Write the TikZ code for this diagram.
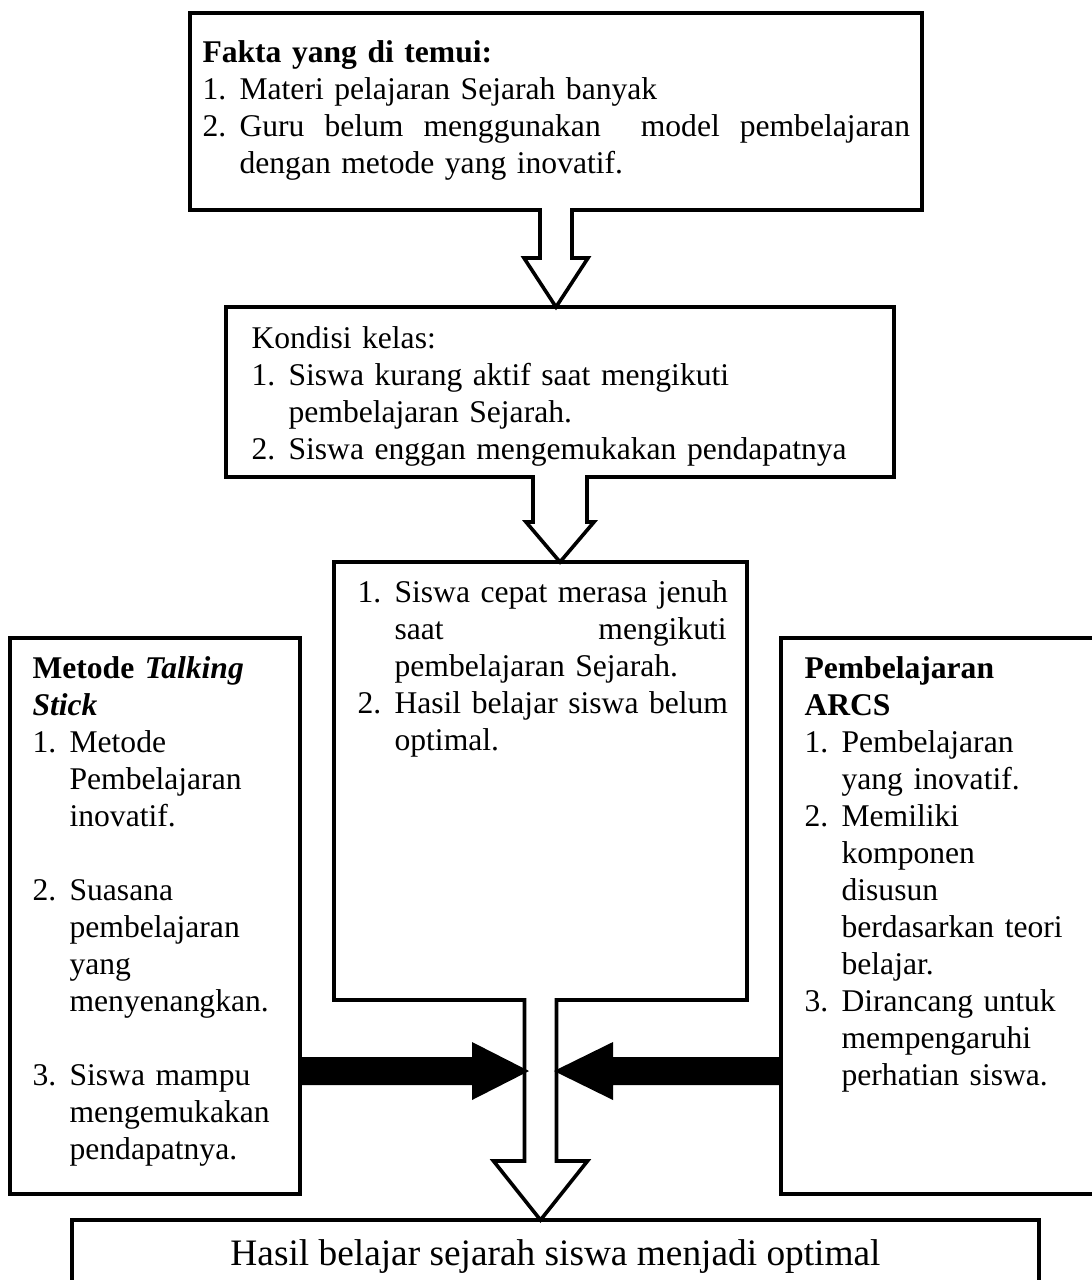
\documentclass[tikz,border=0pt]{standalone}
\usepackage{fontspec}
\setmainfont{Liberation Serif}
\usepackage{tikz}
\usetikzlibrary{calc,fit,positioning}

\newlength{\numw}
\setlength{\numw}{13.9pt}
\newcommand{\nomor}[1]{\makebox[\numw][l]{#1}}
\newcommand{\lanjut}{\hspace*{\numw}}
\newcommand{\rata}[2]{\makebox[#1][s]{#2}}

% hollow block arrow: from node, to node, half shaft, half head, head length
\newcommand{\panahputih}[5]{%
  \path (#1.south) coordinate (pa) (pa |- #2.north) coordinate (pb);
  \fill[white] ($(pa)+(-#3,-4)$) -- ($(pb)+(-#3,-#5)$) -- ($(pb)+(-#4,-#5)$) -- (pb)
     -- ($(pb)+(#4,-#5)$) -- ($(pb)+(#3,-#5)$) -- ($(pa)+(#3,-4)$) -- cycle;
  \draw[garis] ($(pa)+(-#3,-2)$) -- ($(pb)+(-#3,-#5)$) -- ($(pb)+(-#4,-#5)$) -- (pb)
     -- ($(pb)+(#4,-#5)$) -- ($(pb)+(#3,-#5)$) -- ($(pa)+(#3,-2)$);
}

\begin{document}
\begin{tikzpicture}[x=0.375pt,y=-0.375pt,
    kotak/.style={draw,line width=1.35pt,inner sep=0pt,outer sep=0pt},
    garis/.style={line width=1.35pt,line join=miter},
    teks/.style={anchor=base west,inner sep=0pt,align=left,
      font=\fontsize{11.85pt}{13.875pt}\selectfont}]
  \useasboundingbox (0,0) rectangle (1091,1280);

  % boxes
  \node[kotak,fit={(190,13) (922,210)}] (fakta) {};
  \node[kotak,fit={(226,307) (894,477)}] (kondisi) {};
  \node[kotak,fit={(334,562) (747,1000)}] (masalah) {};
  \node[kotak,fit={(10,638) (300,1194)}] (metode) {};
  \node[kotak,fit={(781,638) (1094,1194)}] (arcs) {};
  \node[kotak,fit={(72,1220) (1039,1284)}] (hasil) {};

  % texts
  \node[teks,text width=266pt] (faktateks) at ($(fakta.north west)+(12,49)$)
    {\textbf{Fakta yang di temui:}\\
     \nomor{1.}Materi pelajaran Sejarah banyak\\
     \nomor{2.}\rata{251.4pt}{Guru \hfill belum \hfill menggunakan \hfill\ \hfill model \hfill pembelajaran}\\
     \lanjut dengan metode yang inovatif.};
  \node[teks,text width=240pt] (kondisiteks) at ($(kondisi.north west)+(25,41)$)
    {Kondisi kelas:\\
     \nomor{1.}Siswa kurang aktif saat mengikuti\\
     \lanjut pembelajaran Sejarah.\\
     \nomor{2.}Siswa enggan mengemukakan pendapatnya};
  \node[teks,text width=145pt] (masalahteks) at ($(masalah.north west)+(23,40)$)
    {\nomor{1.}\rata{124.5pt}{Siswa \hfill cepat \hfill merasa \hfill jenuh}\\
     \lanjut\rata{124.5pt}{saat \hfill mengikuti}\\
     \lanjut pembelajaran Sejarah.\\
     \nomor{2.}\rata{124.5pt}{Hasil \hfill belajar \hfill siswa \hfill belum}\\
     \lanjut optimal.};
  \node[teks,text width=100pt] (metodeteks) at ($(metode.north west)+(22,40)$)
    {\textbf{Metode \textit{Talking}}\\
     \textbf{\textit{Stick}}\\
     \nomor{1.}Metode\\
     \lanjut Pembelajaran\\
     \lanjut inovatif.\\[\baselineskip]
     \nomor{2.}Suasana\\
     \lanjut pembelajaran\\
     \lanjut yang\\
     \lanjut menyenangkan.\\[\baselineskip]
     \nomor{3.}Siswa mampu\\
     \lanjut mengemukakan\\
     \lanjut pendapatnya.};
  \node[teks,text width=105pt] (arcsteks) at ($(arcs.north west)+(23,40)$)
    {\textbf{Pembelajaran}\\
     \textbf{ARCS}\\
     \nomor{1.}Pembelajaran\\
     \lanjut yang inovatif.\\
     \nomor{2.}Memiliki\\
     \lanjut komponen\\
     \lanjut disusun\\
     \lanjut berdasarkan teori\\
     \lanjut belajar.\\
     \nomor{3.}Dirancang untuk\\
     \lanjut mempengaruhi\\
     \lanjut perhatian siswa.};
  \node[anchor=base,inner sep=0pt,font=\fontsize{14pt}{16pt}\selectfont] (hasilteks)
    at ($(hasil.north)+(0,45)$) {Hasil belajar sejarah siswa menjadi optimal};

  % hollow arrows
  \panahputih{fakta}{kondisi}{16}{32}{49}
  \panahputih{kondisi}{masalah}{27}{34}{40}
  \panahputih{masalah}{hasil}{16}{47}{59}

  % black arrows
  \coordinate (ujungkiri) at (529,1071);
  \coordinate (ujungkanan) at (554,1071);
  \fill ($(metode.east |- ujungkiri)+(0,-14)$) -- ($(ujungkiri)+(-57,-14)$)
    -- ($(ujungkiri)+(-57,-29)$) -- (ujungkiri) -- ($(ujungkiri)+(-57,29)$)
    -- ($(ujungkiri)+(-57,14)$) -- ($(metode.east |- ujungkiri)+(0,14)$) -- cycle;
  \fill ($(arcs.west |- ujungkanan)+(0,-14)$) -- ($(ujungkanan)+(59,-14)$)
    -- ($(ujungkanan)+(59,-29)$) -- (ujungkanan) -- ($(ujungkanan)+(59,29)$)
    -- ($(ujungkanan)+(59,14)$) -- ($(arcs.west |- ujungkanan)+(0,14)$) -- cycle;
\end{tikzpicture}
\end{document}
